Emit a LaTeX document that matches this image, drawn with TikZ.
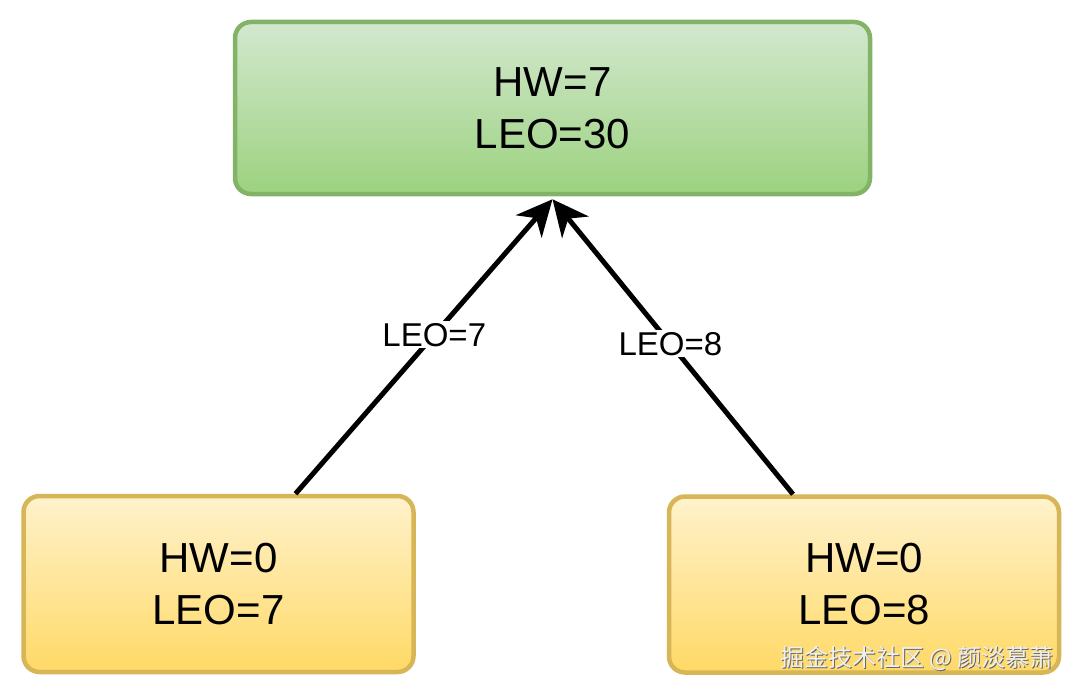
\documentclass[tikz,border=0pt]{standalone}
\usepackage{fontspec}
\setmainfont{Liberation Sans}
\newfontfamily\cjk{Noto Sans CJK SC}
\usetikzlibrary{arrows.meta,shadings}
\definecolor{gtop}{HTML}{D3E8CF}
\definecolor{gbot}{HTML}{9CD27F}
\definecolor{gline}{HTML}{82B366}
\definecolor{ytop}{HTML}{FFF2CC}
\definecolor{ybot}{HTML}{FFD966}
\definecolor{yline}{HTML}{D6B656}
\tikzset{
  box/.style={rounded corners=16pt, line width=4.5pt, align=center,
    font=\fontsize{42}{52}\selectfont, inner sep=0pt},
  greenbox/.style={box, draw=gline, top color=gtop, bottom color=gbot,
    minimum width=635pt, minimum height=172pt},
  yellowbox/.style={box, draw=yline, top color=ytop, bottom color=ybot,
    minimum width=390pt, minimum height=176pt},
  conn/.style={line width=5pt, -{Stealth[length=36pt,width=34pt,inset=11pt]}},
  lbl/.style={fill=white, inner sep=2pt, font=\fontsize{33}{36}\selectfont}
}
\begin{document}
\begin{tikzpicture}[x=1pt,y=-1pt]
\useasboundingbox (0,0) rectangle (1080,693);
\fill[white] (0,0) rectangle (1080,693);
\node[greenbox] (top) at (552.5,108) {HW=7\\LEO=30};
\node[yellowbox] (bl) at (218.5,584) {HW=0\\LEO=7};
\node[yellowbox] (br) at (864,584.5) {HW=0\\LEO=8};
\coordinate (s1) at ([xshift=77pt]bl.north);
\coordinate (s2) at ([xshift=-71pt]br.north);
\coordinate (tip) at ([yshift=-3pt]top.south);
\draw[conn] (s1) -- node[lbl, pos=0.54] (l1) {LEO=7} (tip);
\draw[conn] (s2) -- node[lbl, pos=0.51] (l2) {LEO=8} (tip);
\node[anchor=east, text=gray!80!black, font=\cjk\fontsize{24}{28}\selectfont] (wms) at (1058.5,659.5) {掘金技术社区 @ 颜淡慕萧};
\node[anchor=east, text=white!94!black, font=\cjk\fontsize{24}{28}\selectfont] (wm) at (1057,658) {掘金技术社区 @ 颜淡慕萧};
\end{tikzpicture}
\end{document}
